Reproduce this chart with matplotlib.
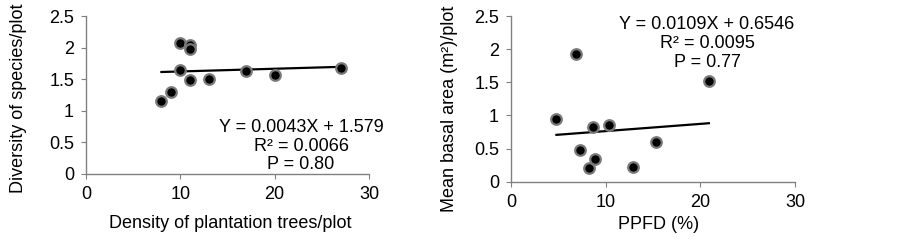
import numpy as np
import matplotlib
matplotlib.use("Agg")
import matplotlib.pyplot as plt

plt.rcParams['font.family'] = ['Liberation Sans', 'DejaVu Sans']

# left panel: density of plantation trees vs diversity
density = [8, 9, 10, 10, 11, 11, 11, 13, 17, 20, 27]
diversity = [1.15, 1.30, 2.08, 1.65, 2.04, 1.98, 1.48, 1.50, 1.63, 1.57, 1.68]
fit_left = (0.0043, 1.579)

# right panel: PPFD vs mean basal area
ppfd = [4.8, 6.9, 7.3, 8.2, 8.7, 8.9, 10.4, 12.9, 15.3, 20.9]
basal = [0.95, 1.92, 0.48, 0.21, 0.82, 0.34, 0.85, 0.22, 0.60, 1.52]
fit_right = (0.0109, 0.6546)

fs = 13

fig = plt.figure(figsize=(9.02, 2.4), dpi=100)
ax1 = fig.add_axes([0.0953, 0.276, 0.3137, 0.657])
ax2 = fig.add_axes([0.5665, 0.243, 0.315, 0.690])

def style(ax):
    for s in ['top', 'right']:
        ax.spines[s].set_visible(False)
    for s in ['left', 'bottom']:
        ax.spines[s].set_color('#808080')
        ax.spines[s].set_linewidth(1.0)
    ax.tick_params(direction='out', length=3.6, color='#808080', labelsize=fs, pad=5)
    ax.set_xlim(0, 30)
    ax.set_ylim(0, 2.5)
    ax.set_xticks([0, 10, 20, 30])
    ax.set_xticklabels(['0', '10', '20', '30'])
    ax.set_yticks([0, 0.5, 1, 1.5, 2, 2.5])
    ax.set_yticklabels(['0', '0.5', '1', '1.5', '2', '2.5'])

def draw(ax, x, y, fit):
    ax.scatter(x, y, s=58, c='black', edgecolors='#7a7a7a', linewidths=1.6, zorder=3, clip_on=False)
    xs = np.array([min(x), max(x)])
    ax.plot(xs, fit[0] * xs + fit[1], color='black', lw=1.6, zorder=2)

style(ax1)
draw(ax1, density, diversity, fit_left)
ax1.set_ylabel('Diversity of species/plot', fontsize=fs, va='center')
ax1.yaxis.set_label_coords(-0.24, 0.48)
ax1.set_xlabel('Density of plantation trees/plot', fontsize=fs, va='center')
ax1.xaxis.set_label_coords(0.51, -0.313)
ax1.text(0.76, 0.176, 'Y = 0.0043X + 1.579\nR² = 0.0066\nP = 0.80', transform=ax1.transAxes,
         ha='center', va='center', fontsize=fs, linespacing=1.15)

style(ax2)
draw(ax2, ppfd, basal, fit_right)
ax2.set_ylabel('Mean basal area (m²)/plot', fontsize=fs, va='center')
ax2.yaxis.set_label_coords(-0.215, 0.44)
ax2.set_xlabel('PPFD (%)', fontsize=fs, va='center')
ax2.xaxis.set_label_coords(0.518, -0.261)
ax2.text(0.69, 0.837, 'Y = 0.0109X + 0.6546\nR² = 0.0095\nP = 0.77', transform=ax2.transAxes,
         ha='center', va='center', fontsize=fs, linespacing=1.15)

fig.savefig('out.png', dpi=100)
